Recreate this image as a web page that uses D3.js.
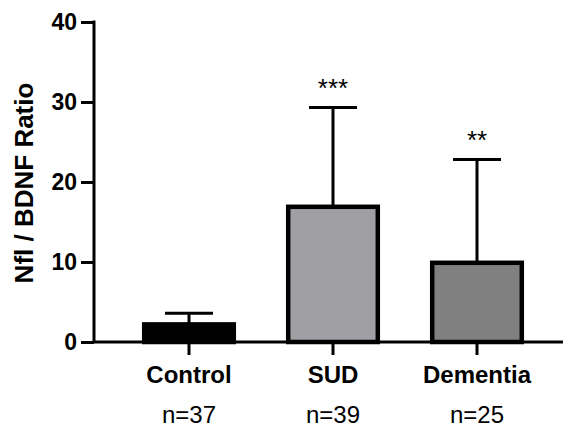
<!DOCTYPE html>
<html>
<head>
<meta charset="utf-8">
<script src="https://cdn.jsdelivr.net/npm/d3@7"></script>
<style>
  body { margin: 0; background: #fff; }
  svg { font-family: "Liberation Sans", Arial, sans-serif; }
</style>
</head>
<body>
<div id="viz"></div>
<script>
var width = 563;
var height = 428;

// data
var groups = ["Control", "SUD", "Dementia"];
var means = [2.2, 16.9, 9.9];
var sds = [3.6, 29.3, 22.8];       // top of error bar
var colors = ["#000000", "#a0a0a4", "#808080"];
var stars = ["", "***", "**"];
var counts = ["n=37", "n=39", "n=25"];
var yTicks = [0, 10, 20, 30, 40];

var svg = d3.select("#viz").append("svg")
    .attr("width", width)
    .attr("height", height);

var y = d3.scaleLinear().domain([0, 40]).range([342, 22]);
var x = d3.scaleBand().domain(groups).range([117, 549]).paddingInner(0.35).paddingOuter(0.175);

// y axis
var yAxis = svg.append("g")
    .attr("transform", "translate(94,0)")
    .call(d3.axisLeft(y).tickValues(yTicks).tickSize(13).tickPadding(4));
yAxis.select(".domain").attr("stroke-width", 3).attr("d", "M0," + (y(40) - 1.5) + "V" + y(0));
yAxis.selectAll(".tick line").attr("stroke-width", 3);
yAxis.selectAll(".tick text")
    .attr("fill", "#000")
    .attr("font-family", "'Liberation Sans', Arial, sans-serif")
    .attr("font-size", 23)
    .attr("font-weight", "bold");

svg.append("text")
    .attr("transform", "translate(33," + (y(20) + 1) + ") rotate(-90)")
    .attr("text-anchor", "middle")
    .style("font-size", "26px")
    .style("font-weight", "bold")
    .text("Nfl / BDNF Ratio");

// error bars (drawn first, bar covers lower part)
var cx = function(d) { return x(d) + x.bandwidth() / 2; };

svg.selectAll(".err")
    .data(groups)
  .enter().append("line")
    .attr("class", "err")
    .attr("x1", cx).attr("x2", cx)
    .attr("y1", function(d, i) { return y(means[i]); })
    .attr("y2", function(d, i) { return y(sds[i]); })
    .attr("stroke", "#000")
    .attr("stroke-width", 3);

svg.selectAll(".cap")
    .data(groups)
  .enter().append("line")
    .attr("class", "cap")
    .attr("x1", function(d) { return cx(d) - 24; })
    .attr("x2", function(d) { return cx(d) + 24; })
    .attr("y1", function(d, i) { return y(sds[i]); })
    .attr("y2", function(d, i) { return y(sds[i]); })
    .attr("stroke", "#000")
    .attr("stroke-width", 3);

// bars
svg.selectAll(".bar")
    .data(groups)
  .enter().append("rect")
    .attr("class", "bar")
    .attr("x", function(d) { return x(d) + 2; })
    .attr("width", x.bandwidth() - 4)
    .attr("y", function(d, i) { return y(means[i]); })
    .attr("height", function(d, i) { return y(0) - y(means[i]); })
    .attr("fill", function(d, i) { return colors[i]; })
    .attr("stroke", "#000")
    .attr("stroke-width", 4.5);

// x axis
svg.append("line")
    .attr("x1", 94).attr("x2", 563)
    .attr("y1", y(0)).attr("y2", y(0))
    .attr("stroke", "#000")
    .attr("stroke-width", 3);

svg.selectAll(".xtick")
    .data(groups)
  .enter().append("line")
    .attr("class", "xtick")
    .attr("x1", cx).attr("x2", cx)
    .attr("y1", y(0)).attr("y2", y(0) + 13)
    .attr("stroke", "#000")
    .attr("stroke-width", 3);

svg.selectAll(".xlab")
    .data(groups)
  .enter().append("text")
    .attr("class", "xlab")
    .attr("x", cx)
    .attr("y", 383)
    .attr("text-anchor", "middle")
    .style("font-size", "24px")
    .style("font-weight", "bold")
    .text(function(d) { return d; });

svg.selectAll(".nlab")
    .data(groups)
  .enter().append("text")
    .attr("class", "nlab")
    .attr("x", cx)
    .attr("y", 423)
    .attr("text-anchor", "middle")
    .style("font-size", "24px")
    .text(function(d, i) { return counts[i]; });

// significance stars
svg.selectAll(".star")
    .data(groups)
  .enter().append("text")
    .attr("class", "star")
    .attr("x", cx)
    .attr("y", function(d, i) { return y(sds[i]) - 11; })
    .attr("text-anchor", "middle")
    .style("font-size", "26px")
    .text(function(d, i) { return stars[i]; });
</script>
</body>
</html>
